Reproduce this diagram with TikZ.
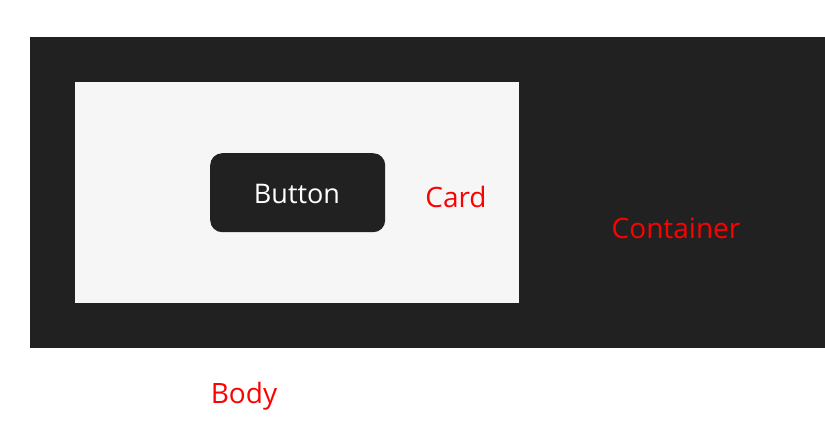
\documentclass[tikz,border=0pt]{standalone}
\usepackage{fontspec}
\setmainfont{Open Sans}
\begin{document}
\begin{tikzpicture}[x=1pt,y=-1pt,
  lbl/.style={text=red,font=\fontsize{28}{32}\selectfont,inner sep=0pt},
  btn/.style={fill=btngray,rounded corners=12pt,draw=none}]
\definecolor{btngray}{HTML}{212121}
\definecolor{cardgray}{HTML}{F6F6F6}
\useasboundingbox (0,0) rectangle (825,421);
\fill[white] (0,0) rectangle (825,421);
\fill[btngray] (30,37) rectangle (825,348);
\fill[cardgray] (75,82) rectangle (519,303);
\node[btn,minimum width=175pt,minimum height=79pt,anchor=north west] (button) at (210,153) {};
\node[text=white,font=\fontsize{27}{31}\selectfont,inner sep=0pt] (buttontext) at (297,194) {Button};
\node[lbl] (card) at (456,197) {Card};
\node[lbl] (container) at (676,228) {Container};
\node[lbl] (body) at (244,396) {Body};
\end{tikzpicture}
\end{document}
